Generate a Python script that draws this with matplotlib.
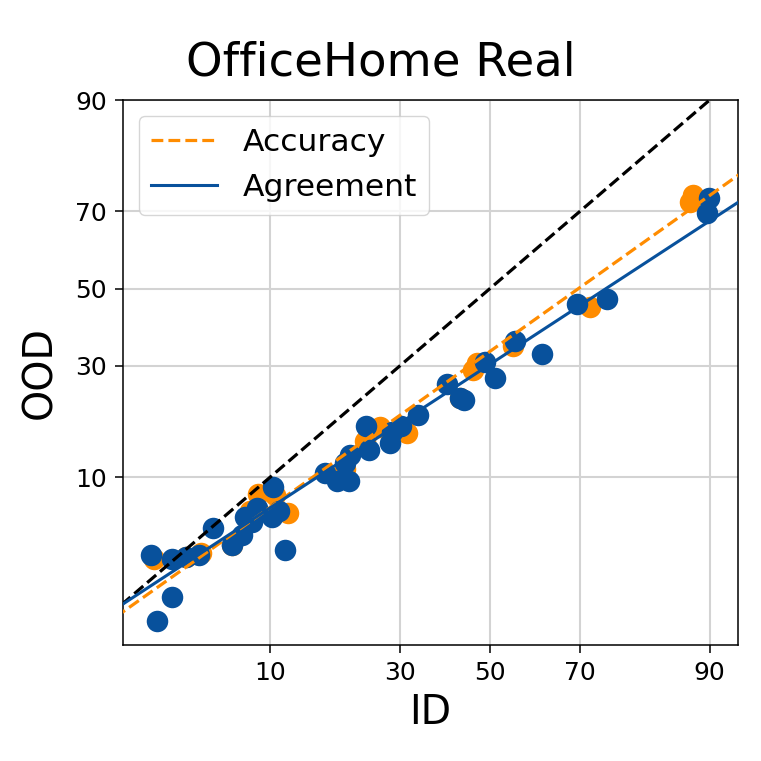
import math
from statistics import NormalDist
import numpy as np
import matplotlib
matplotlib.use("Agg")
import matplotlib.pyplot as plt

# ---- data (percent) ----
acc_id = [88.2, 87.8, 72.0, 55.3, 46.1, 47.0, 26.1, 31.4, 11.9, 8.8, 8.1,
          3.8, 6.6, 19.9, 43.1, 23.3, 10.5, 2.5, 4.6]
acc_ood = [73.7, 72.3, 44.9, 34.7, 29.1, 30.7, 17.4, 16.4, 6.4, 8.1, 6.5,
           3.4, 4.1, 11.0, 22.9, 15.0, 8.0, 3.3, 3.6]

agr_id = [2.4, 2.6, 3.2, 3.2, 3.8, 4.5, 5.3, 6.6, 7.4, 7.7, 8.3, 8.7, 10.3,
          10.2, 10.9, 11.6, 16.8, 18.6, 20.6, 19.9, 20.7, 23.5, 24.0, 28.0,
          28.4, 30.2, 33.7, 40.1, 43.1, 44.0, 48.8, 51.2, 55.8, 61.9, 69.4,
          75.2, 89.9, 89.7]
agr_ood = [3.5, 1.2, 1.8, 3.3, 3.4, 3.5, 5.2, 4.1, 4.7, 6.0, 5.6, 6.8, 8.9,
           6.0, 6.5, 3.8, 10.5, 9.5, 9.5, 11.8, 12.9, 17.6, 13.7, 14.7,
           16.5, 17.6, 19.6, 25.9, 22.9, 22.5, 31.0, 27.2, 36.2, 32.9, 45.9,
           47.3, 73.2, 69.7]

# linear fits in probit space: (slope, intercept)
acc_fit = (0.827, -0.427)
agr_fit = (0.761, -0.515)

ticks = [10, 30, 50, 70, 90]
tick_labels = ["10", "30", "50", "70", "90"]

_nd = NormalDist()


def _inv_scalar(p):
    if not np.isfinite(p):
        return p
    q = min(max(p / 100.0, 1e-9), 1 - 1e-9)
    return _nd.inv_cdf(q)


def _cdf_scalar(z):
    if not np.isfinite(z):
        return 100.0 if z > 0 else 0.0
    return 50.0 * (1.0 + math.erf(z / math.sqrt(2.0)))


_inv = np.vectorize(_inv_scalar, otypes=[float])
_cdf = np.vectorize(_cdf_scalar, otypes=[float])


def fwd(p):
    return _inv(np.asarray(p, dtype=float))


def inv(z):
    return _cdf(np.asarray(z, dtype=float))


orange = "#ff8c00"
blue = "#08519c"

fig = plt.figure(figsize=(7.61, 7.61), dpi=100)
ax = fig.add_axes([123 / 761, 116 / 761, 615 / 761, 545 / 761])
ax.set_xscale("function", functions=(fwd, inv))
ax.set_yscale("function", functions=(fwd, inv))

xs = np.linspace(0.3, 99.0, 400)
zx = fwd(xs)
ax.plot(xs, xs, ls="--", color="black", lw=2.3, zorder=3)
ax.plot(xs, inv(acc_fit[0] * zx + acc_fit[1]), ls="--", color=orange, lw=2.3,
        label="Accuracy", zorder=3)
ax.plot(xs, inv(agr_fit[0] * zx + agr_fit[1]), ls="-", color=blue, lw=2.2,
        label="Agreement", zorder=3)

ax.scatter(acc_id, acc_ood, s=240, color=orange, zorder=2, linewidths=0)
ax.scatter(agr_id, agr_ood, s=240, color=blue, zorder=2, linewidths=0)

ax.set_xlim(1.62, 92.6)
ax.set_ylim(0.772, 90)
ax.set_xticks(ticks)
ax.set_xticklabels(tick_labels)
ax.set_yticks(ticks)
ax.set_yticklabels(tick_labels)
ax.minorticks_off()
ax.tick_params(labelsize=18, length=5.6, width=1.1, pad=6)
ax.grid(True, color="#d3d3d3", lw=1.5)
ax.set_axisbelow(True)
for s in ax.spines.values():
    s.set_linewidth(1.1)

fig.text(0.5, 1 - 75 / 761, "OfficeHome Real", fontsize=33.5,
         ha="center", va="baseline")
ax.set_xlabel("ID", fontsize=28.5, labelpad=6)
ax.set_ylabel("OOD", fontsize=28.5, labelpad=11)
ax.legend(loc="upper left", fontsize=22.6, framealpha=0.8, handlelength=2.1)

fig.savefig("out.png", dpi=100)
